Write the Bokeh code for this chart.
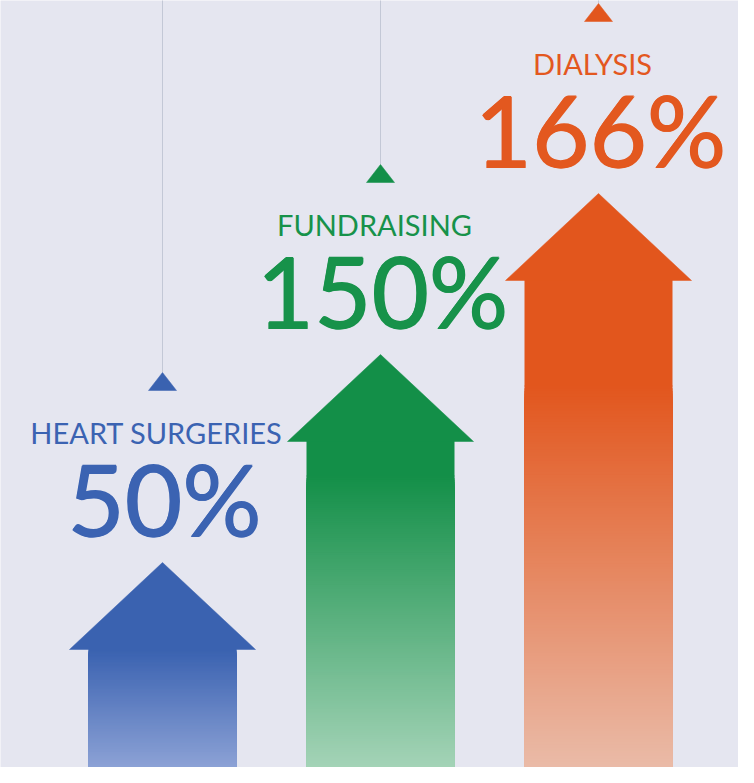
import numpy as np
from bokeh.plotting import figure
from bokeh.models import Range1d
from bokeh.core.properties import value
from bokeh.embed import file_html
from bokeh.resources import INLINE

# ---- data ----
categories = ["HEART SURGERIES", "FUNDRAISING", "DIALYSIS"]
growth_pct = [50, 150, 166]
pct_labels = [f"{v}%" for v in growth_pct]
arrow_reach = [213, 421, 582]          # visual arrow length (chart units)

# ---- styles ----
top_colors = ["#3a62b0", "#138f48", "#e2561d"]
bottom_colors = ["#92a6d8", "#a8d5ba", "#eabdab"]
text_colors = ["#3b63b2", "#17924a", "#e3581f"]
fade_len = [126, 300, 390]
BG = "#e5e6f0"

W, H = 738, 767
PX = 218.0                      # pixels per category step
x_start = -(170 - 8) / PX
x_end = x_start + W / PX
y_start, y_end = 8, 8 + H

p = figure(width=W, height=H, output_backend="svg", toolbar_location=None,
           x_range=Range1d(x_start, x_end), y_range=Range1d(y_start, y_end),
           min_border=0)
p.axis.visible = False
p.grid.visible = False
p.outline_line_color = None
p.background_fill_color = BG
p.border_fill_color = BG


def hex2rgb(h):
    h = h.lstrip("#")
    return np.array([int(h[i:i + 2], 16) for i in (0, 2, 4)], dtype=float)


def rgb2hex(c):
    c = np.clip(np.round(c), 0, 255).astype(int)
    return "#%02x%02x%02x" % tuple(c)


HEAD_H = 87.0
HEAD_HW = 93.0 / PX
SHAFT_HW = 74.0 / PX

idx = list(range(len(categories)))

# hanging strings and small triangles
p.segment(x0=idx, y0=[r + 190 for r in arrow_reach], x1=idx,
          y1=[y_end + 20] * len(idx), line_color="#c3c8d6", line_width=1)
tri_xs = [[i - 14 / PX, i, i + 14 / PX] for i in idx]
tri_ys = [[r + 172, r + 190, r + 172] for r in arrow_reach]
p.patches(tri_xs, tri_ys, fill_color=top_colors, line_color=top_colors, line_width=0.5)

# arrows with vertical gradient
for i, reach in enumerate(arrow_reach):
    base = reach - HEAD_H
    top_c = hex2rgb(top_colors[i])
    bot_c = hex2rgb(bottom_colors[i])
    fl = min(fade_len[i], base)
    # solid upper part of shaft
    p.quad(left=i - SHAFT_HW, right=i + SHAFT_HW, bottom=fl - 1, top=base + 1,
           fill_color=top_colors[i], line_color=None)
    # head
    p.patch([i - HEAD_HW, i, i + HEAD_HW], [base, reach, base],
            fill_color=top_colors[i], line_color=top_colors[i], line_width=0.5)
    # gradient: layered rectangles all reaching the bottom, drawn top-first
    n = 140
    edges = np.linspace(0, fl, n + 1)
    lefts, rights, bots, tops, cols = [], [], [], [], []
    for k in range(n - 1, -1, -1):
        y1 = edges[k + 1]
        d = 0.5 * (edges[k] + y1)
        t = 1 - d / fade_len[i]
        c = top_c + (bot_c - top_c) * t
        lefts.append(i - SHAFT_HW)
        rights.append(i + SHAFT_HW)
        bots.append(0)
        tops.append(y1)
        cols.append(rgb2hex(c))
    p.quad(left=lefts, right=rights, bottom=bots, top=tops,
           fill_color=cols, line_color=None)

# labels
p.text(x=idx, y=[r + 130 for r in arrow_reach], text=categories,
       text_font=value("Lato"), text_font_size="29px", text_color=text_colors,
       text_align="center", text_baseline="alphabetic", x_offset=-6)
# big percentages (drawn with a tiny offset copy for a medium weight)
for dx, dy in [(-0.6, 0), (0.6, 0), (0, -0.6)]:
    p.text(x=idx, y=[r + 64 for r in arrow_reach], text=pct_labels,
           text_font=value("Lato"), text_font_size="99px",
           text_color=text_colors, text_align="center", text_baseline="alphabetic",
           x_offset=dx + 2, y_offset=dy)

open("out.html", "w").write(file_html(p, INLINE))
